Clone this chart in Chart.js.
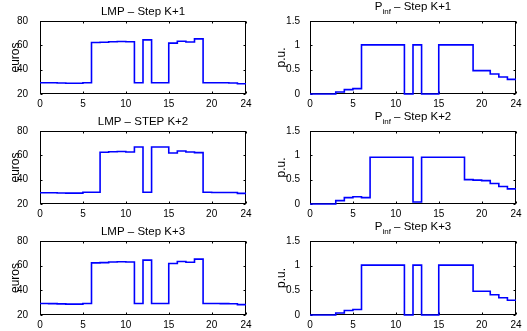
<!DOCTYPE html>
<html>
<head>
<meta charset="utf-8">
<script src="https://cdn.jsdelivr.net/npm/chart.js@4/dist/chart.umd.min.js"></script>
<style>
  html, body { margin: 0; padding: 0; background: #fff; }
  #fig { position: relative; width: 527px; height: 331px; overflow: hidden; background: #fff; }
  #fig canvas { position: absolute; }
</style>
</head>
<body>
<div id="fig">
  <canvas id="lmp1" width="260" height="110" style="left:0;top:0"></canvas>
  <canvas id="pinf1" width="267" height="110" style="left:260px;top:0"></canvas>
  <canvas id="lmp2" width="260" height="110" style="left:0;top:110px"></canvas>
  <canvas id="pinf2" width="267" height="110" style="left:260px;top:110px"></canvas>
  <canvas id="lmp3" width="260" height="111" style="left:0;top:220px"></canvas>
  <canvas id="pinf3" width="267" height="111" style="left:260px;top:220px"></canvas>
</div>
<script>
// hour boundaries of the day-ahead steps
const hours = [0, 1, 2, 3, 4, 5, 6, 7, 8, 9, 10, 11, 12, 13, 14, 15, 16, 17, 18, 19, 20, 21, 22, 23, 24];
const xTicks = [0, 5, 10, 15, 20, 24];
const lmpTicks = [20, 40, 60, 80];
const pinfTicks = [0, 0.5, 1, 1.5];

// locational marginal price per hour (euros)
const lmpK1 = [29.3, 29.2, 29.0, 28.8, 28.8, 29.3, 62.3, 62.5, 63.0, 63.2, 63.0, 29.3, 64.5, 29.3, 29.3, 61.8, 63.4, 62.8, 65.3, 29.3, 29.3, 29.2, 29.1, 28.4];
const lmpK2 = [29.3, 29.2, 29.0, 28.9, 28.9, 29.6, 29.6, 62.5, 63.0, 63.2, 62.7, 66.8, 29.6, 66.8, 66.8, 61.9, 63.6, 62.8, 62.2, 29.6, 29.5, 29.5, 29.4, 28.7];
const lmpK3 = [29.3, 29.2, 29.0, 28.8, 28.8, 29.3, 62.3, 62.5, 63.0, 63.2, 63.0, 29.3, 64.5, 29.3, 29.3, 61.8, 63.4, 62.8, 65.3, 29.3, 29.3, 29.2, 29.1, 28.4];

// infeed power per hour (p.u.)
const pinfK1 = [0, 0, 0, 0.04, 0.09, 0.11, 1.01, 1.01, 1.01, 1.01, 1.01, 0, 1.01, 0, 0, 1.01, 1.01, 1.01, 1.01, 0.48, 0.48, 0.41, 0.35, 0.30];
const pinfK2 = [0, 0, 0, 0.07, 0.13, 0.15, 0.13, 0.96, 0.96, 0.96, 0.96, 0.96, 0.04, 0.96, 0.96, 0.96, 0.96, 0.96, 0.50, 0.49, 0.48, 0.42, 0.36, 0.31];
const pinfK3 = [0, 0, 0, 0.04, 0.09, 0.11, 1.01, 1.01, 1.01, 1.01, 1.01, 0, 1.01, 0, 0, 1.01, 1.01, 1.01, 1.01, 0.48, 0.48, 0.41, 0.35, 0.30];

const FONT = "'Liberation Sans', Arial, Helvetica, sans-serif";

// stairs: every hour holds its value until the next one, last value runs to 24
function stairs(vals) {
  return hours.map((h, i) => ({ x: h, y: vals[Math.min(i, vals.length - 1)] }));
}

// boxed axes with inward ticks on all four sides, panel title and y label
const axesBox = {
  id: 'axesBox',
  beforeDatasetsDraw(chart) {
    const { ctx, chartArea: a, scales: { x, y } } = chart;
    const L = Math.round(a.left) + 0.5, R = Math.round(a.right) - 0.5;
    const T = Math.round(a.top) + 0.5, B = Math.round(a.bottom) - 0.5;
    const tl = 2;
    ctx.save();
    ctx.strokeStyle = '#000';
    ctx.lineWidth = 1;
    ctx.beginPath();
    x.ticks.forEach(t => {
      const px = Math.round(x.getPixelForValue(t.value)) + 0.5;
      ctx.moveTo(px, B); ctx.lineTo(px, B - tl);
      ctx.moveTo(px, T); ctx.lineTo(px, T + tl);
    });
    y.ticks.forEach(t => {
      const py = Math.round(y.getPixelForValue(t.value)) + 0.5;
      ctx.moveTo(L, py); ctx.lineTo(L + tl, py);
      ctx.moveTo(R, py); ctx.lineTo(R - tl, py);
    });
    ctx.stroke();
    ctx.strokeRect(L, T, R - L, B - T);
    ctx.restore();
  },
  afterDraw(chart, args, opts) {
    const { ctx, chartArea: a } = chart;
    const parts = opts.title || [];
    const big = '11.5px ' + FONT, small = '8px ' + FONT;
    ctx.save();
    ctx.fillStyle = '#000';
    ctx.textBaseline = 'alphabetic';
    ctx.textAlign = 'left';
    let w = 0;
    parts.forEach(p => { ctx.font = p.sub ? small : big; w += ctx.measureText(p.text).width; });
    let cx = (a.left + a.right) / 2 - w / 2;
    const base = a.top + opts.baseline;
    parts.forEach(p => {
      ctx.font = p.sub ? small : big;
      ctx.fillText(p.text, cx, p.sub ? base + 3.5 : base);
      cx += ctx.measureText(p.text).width;
    });

    // rotated y-axis label
    ctx.translate(a.left - opts.labelGap, (a.top + a.bottom) / 2);
    ctx.rotate(-Math.PI / 2);
    ctx.font = '12px ' + FONT;
    ctx.textAlign = 'center';
    ctx.textBaseline = 'middle';
    ctx.fillText(opts.yLabel, 0, 0);
    ctx.restore();
  }
};

function panel(id, vals, yMin, yMax, yTicks, yLabel, title, left) {
  new Chart(document.getElementById(id), {
    type: 'line',
    data: {
      datasets: [{
        data: stairs(vals),
        stepped: true,
        borderColor: '#0000ff',
        borderWidth: 1.6,
        pointRadius: 0,
        fill: false,
        clip: false
      }]
    },
    options: {
      responsive: false,
      animation: false,
      events: [],
      layout: { padding: { left: 0, right: left ? 14 : 11, top: 21, bottom: 0 } },
      plugins: {
        legend: { display: false },
        tooltip: { enabled: false },
        axesBox: { title: title, baseline: left ? -6 : -11, yLabel: yLabel, labelGap: left ? 24 : 28 }
      },
      scales: {
        x: {
          type: 'linear',
          min: 0,
          max: 24,
          grid: { display: false },
          border: { display: false },
          afterBuildTicks: s => { s.ticks = xTicks.map(v => ({ value: v })); },
          afterFit: s => { s.height = 16; },
          ticks: { color: '#000', font: { family: FONT, size: 10 }, padding: -4, maxRotation: 0, autoSkip: false }
        },
        y: {
          type: 'linear',
          min: yMin,
          max: yMax,
          grid: { display: false },
          border: { display: false },
          afterBuildTicks: s => { s.ticks = yTicks.map(v => ({ value: v })); },
          afterFit: s => { s.width = left ? 40 : 50; },
          ticks: { color: '#000', font: { family: FONT, size: 10 }, padding: left ? 4 : 2, callback: v => String(v) }
        }
      }
    },
    plugins: [axesBox]
  });
}

panel('lmp1', lmpK1, 20, 80, lmpTicks, 'euros', [{ text: 'LMP – Step K+1' }], true);
panel('lmp2', lmpK2, 20, 80, lmpTicks, 'euros', [{ text: 'LMP – STEP K+2' }], true);
panel('lmp3', lmpK3, 20, 80, lmpTicks, 'euros', [{ text: 'LMP – Step K+3' }], true);
panel('pinf1', pinfK1, 0, 1.5, pinfTicks, 'p.u.', [{ text: 'P' }, { text: 'inf', sub: true }, { text: ' – Step K+1' }], false);
panel('pinf2', pinfK2, 0, 1.5, pinfTicks, 'p.u.', [{ text: 'P' }, { text: 'inf', sub: true }, { text: ' – Step K+2' }], false);
panel('pinf3', pinfK3, 0, 1.5, pinfTicks, 'p.u.', [{ text: 'P' }, { text: 'inf', sub: true }, { text: ' – Step K+3' }], false);
</script>
</body>
</html>
